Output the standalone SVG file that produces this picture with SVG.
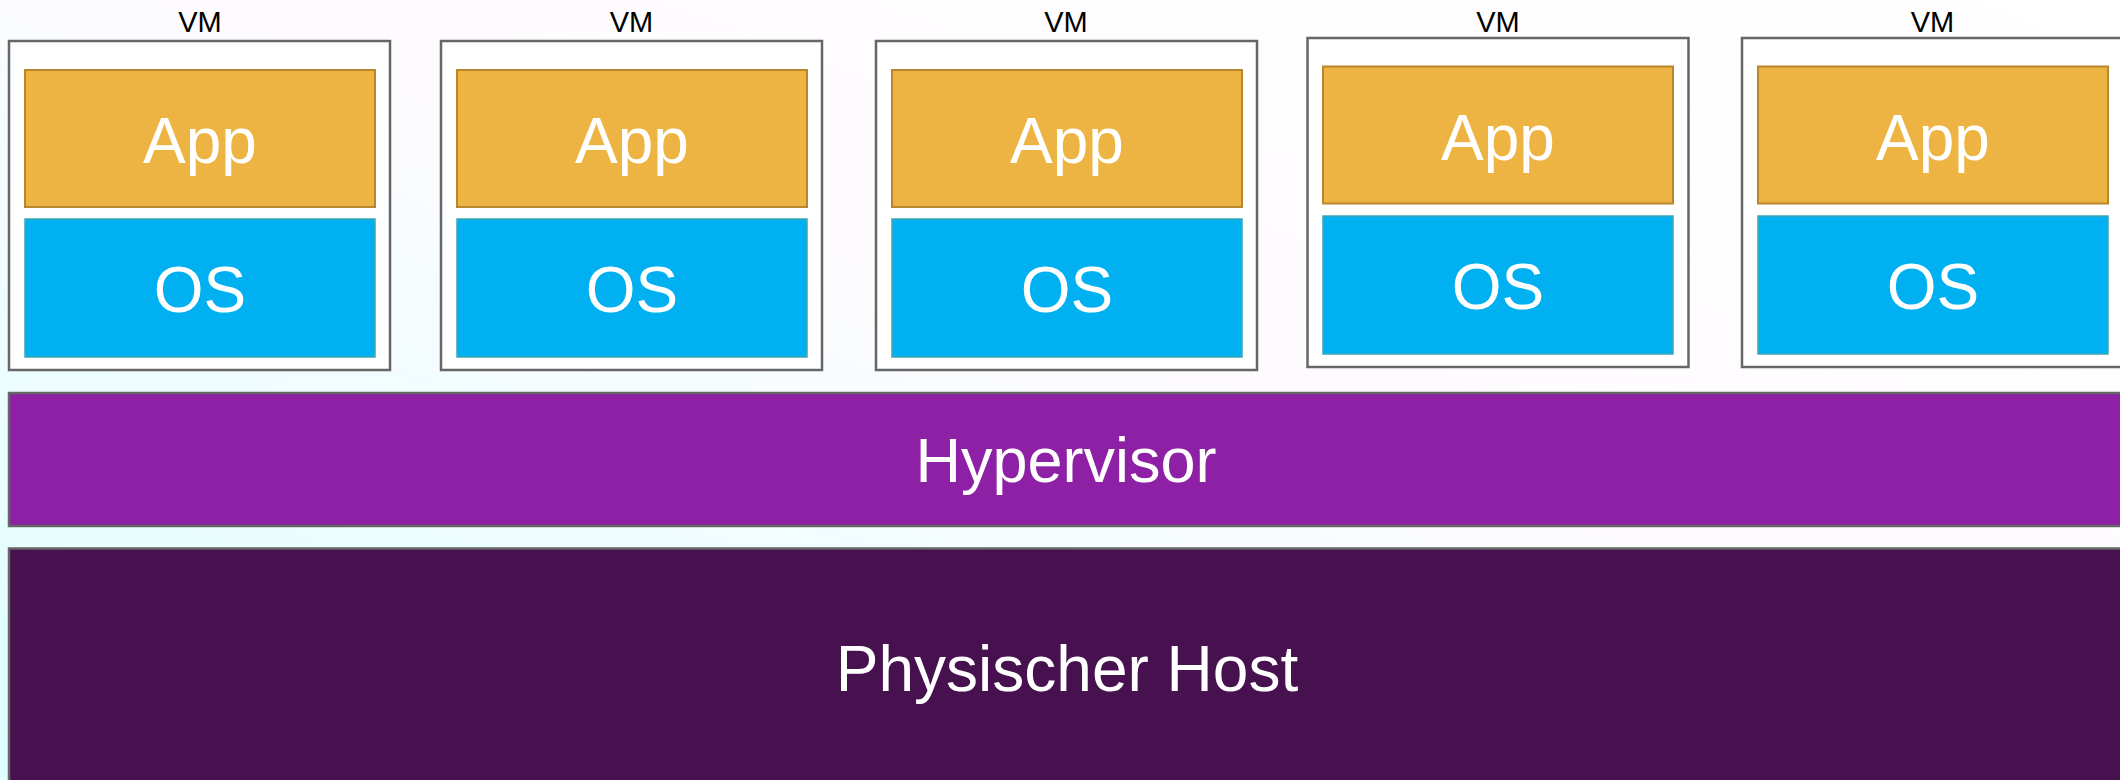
<svg xmlns="http://www.w3.org/2000/svg" width="2120" height="780" viewBox="0 0 2120 780">
  <defs>
    <linearGradient id="bg" x1="1" y1="0" x2="0" y2="1">
      <stop offset="0" stop-color="#FFFFFF"/>
      <stop offset="0.45" stop-color="#FEFBFE"/>
      <stop offset="1" stop-color="#DDFFFF"/>
    </linearGradient>
    <style>
      .vm { fill: #FFFFFF; stroke: #666666; stroke-width: 2.5; }
      .app { fill: #EEB443; stroke: #B8862C; stroke-width: 2; }
      .os { fill: #00B0F0; stroke: #3CA7B5; stroke-width: 1.5; }
      .hyp { fill: #8E20A6; stroke: #666666; stroke-width: 2.5; }
      .host { fill: #47104F; stroke: #666666; stroke-width: 2.5; }
      text { font-family: "Liberation Sans", Arial, sans-serif; text-anchor: middle; }
      .vml { font-size: 29px; fill: #000000; }
      .big { font-size: 64px; fill: #FFFFFF; }
      .hyptext { font-size: 63px; fill: #FFFFFF; }
      .hosttext { font-size: 64px; fill: #FFFFFF; }
    </style>
  </defs>
  <rect x="0" y="0" width="2120" height="780" fill="url(#bg)"/>

  <g id="vm1">
    <text class="vml" x="200" y="32">VM</text>
    <rect class="vm" x="9" y="41" width="381" height="329"/>
    <g id="vm1-app"><rect class="app" x="25" y="70" width="350" height="137"/><text class="big" x="200" y="163">App</text></g>
    <g id="vm1-os"><rect class="os" x="25" y="219" width="350" height="138"/><text class="big" x="200" y="312">OS</text></g>
  </g>
  <g id="vm2">
    <text class="vml" x="631.5" y="32">VM</text>
    <rect class="vm" x="441" y="41" width="381" height="329"/>
    <g id="vm2-app"><rect class="app" x="457" y="70" width="350" height="137"/><text class="big" x="632" y="163">App</text></g>
    <g id="vm2-os"><rect class="os" x="457" y="219" width="350" height="138"/><text class="big" x="632" y="312">OS</text></g>
  </g>
  <g id="vm3">
    <text class="vml" x="1066" y="32">VM</text>
    <rect class="vm" x="876" y="41" width="381" height="329"/>
    <g id="vm3-app"><rect class="app" x="892" y="70" width="350" height="137"/><text class="big" x="1067" y="163">App</text></g>
    <g id="vm3-os"><rect class="os" x="892" y="219" width="350" height="138"/><text class="big" x="1067" y="312">OS</text></g>
  </g>
  <g id="vm4">
    <text class="vml" x="1498" y="32">VM</text>
    <rect class="vm" x="1307.5" y="38" width="381" height="329"/>
    <g id="vm4-app"><rect class="app" x="1323" y="66.5" width="350" height="137"/><text class="big" x="1498" y="159.5">App</text></g>
    <g id="vm4-os"><rect class="os" x="1323" y="216" width="350" height="138"/><text class="big" x="1498" y="308.5">OS</text></g>
  </g>
  <g id="vm5">
    <text class="vml" x="1932.5" y="32">VM</text>
    <rect class="vm" x="1742" y="38" width="381" height="329"/>
    <g id="vm5-app"><rect class="app" x="1758" y="66.5" width="350" height="137"/><text class="big" x="1933" y="159.5">App</text></g>
    <g id="vm5-os"><rect class="os" x="1758" y="216" width="350" height="138"/><text class="big" x="1933" y="308.5">OS</text></g>
  </g>

  <g id="hypervisor">
    <rect class="hyp" x="9" y="393" width="2130" height="133"/>
    <text class="hyptext" x="1066" y="482">Hypervisor</text>
  </g>
  <g id="physischer-host">
    <rect class="host" x="9" y="548.5" width="2130" height="250"/>
    <text class="hosttext" x="1067" y="691">Physischer Host</text>
  </g>

  <g id="connectors"></g>
</svg>
